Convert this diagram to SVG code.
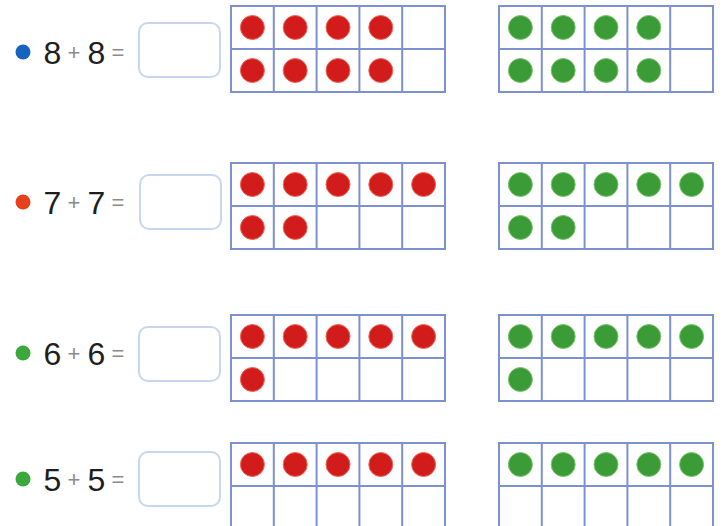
<svg xmlns="http://www.w3.org/2000/svg" width="723" height="526" viewBox="0 0 723 526">
<defs>
<style>
.bg{fill:#ffffff}
.num{font-family:"Liberation Sans",Arial,sans-serif;font-size:32px;fill:#1e1e1e;text-anchor:middle}
.op{font-family:"Liberation Sans",Arial,sans-serif;font-size:22px;fill:#8a8a8a;text-anchor:middle}
.box{fill:#ffffff;stroke:#c6d7ee;stroke-width:2}
.grid{fill:#ffffff;stroke:#7d90d0;stroke-width:2}
.gl{stroke:#7d90d0;stroke-width:2;fill:none}
.rd{fill:#d21c1c;stroke:#f06a5a;stroke-width:1}
.gd{fill:#3a9b37;stroke:#7cc46e;stroke-width:1}
</style>
<g id="tf">
<rect class="grid" x="0" y="0" width="214" height="86"/>
<path class="gl" d="M0 43H214M42.8 0V86M85.6 0V86M128.4 0V86M171.2 0V86"/>
</g>
</defs>
<rect class="bg" x="0" y="0" width="723" height="526"/>

<g id="row1">
<circle cx="23" cy="52" r="7.5" fill="#1565c0"/>
<text class="num" x="52.5" y="63.5">8</text>
<text class="op" x="74" y="60">+</text>
<text class="num" x="96.5" y="63.5">8</text>
<text class="op" x="118" y="60">=</text>
<rect class="box" x="139" y="23" width="81" height="54" rx="9"/>
<g id="r1red">
<use href="#tf" x="231" y="6"/>
<circle class="rd" cx="252.4" cy="27.5" r="12"/><circle class="rd" cx="295.2" cy="27.5" r="12"/><circle class="rd" cx="338" cy="27.5" r="12"/><circle class="rd" cx="380.8" cy="27.5" r="12"/>
<circle class="rd" cx="252.4" cy="70.5" r="12"/><circle class="rd" cx="295.2" cy="70.5" r="12"/><circle class="rd" cx="338" cy="70.5" r="12"/><circle class="rd" cx="380.8" cy="70.5" r="12"/>
</g>
<g id="r1green">
<use href="#tf" x="499" y="6"/>
<circle class="gd" cx="520.4" cy="27.5" r="12"/><circle class="gd" cx="563.2" cy="27.5" r="12"/><circle class="gd" cx="606" cy="27.5" r="12"/><circle class="gd" cx="648.8" cy="27.5" r="12"/>
<circle class="gd" cx="520.4" cy="70.5" r="12"/><circle class="gd" cx="563.2" cy="70.5" r="12"/><circle class="gd" cx="606" cy="70.5" r="12"/><circle class="gd" cx="648.8" cy="70.5" r="12"/>
</g>
</g>

<g id="row2">
<circle cx="23" cy="202" r="7.5" fill="#e8401c"/>
<text class="num" x="52.5" y="213.5">7</text>
<text class="op" x="74" y="210">+</text>
<text class="num" x="96.5" y="213.5">7</text>
<text class="op" x="118" y="210">=</text>
<rect class="box" x="140" y="175" width="81" height="54" rx="9"/>
<g id="r2red">
<use href="#tf" x="231" y="163"/>
<circle class="rd" cx="252.4" cy="184.5" r="12"/><circle class="rd" cx="295.2" cy="184.5" r="12"/><circle class="rd" cx="338" cy="184.5" r="12"/><circle class="rd" cx="380.8" cy="184.5" r="12"/><circle class="rd" cx="423.6" cy="184.5" r="12"/>
<circle class="rd" cx="252.4" cy="227.5" r="12"/><circle class="rd" cx="295.2" cy="227.5" r="12"/>
</g>
<g id="r2green">
<use href="#tf" x="499" y="163"/>
<circle class="gd" cx="520.4" cy="184.5" r="12"/><circle class="gd" cx="563.2" cy="184.5" r="12"/><circle class="gd" cx="606" cy="184.5" r="12"/><circle class="gd" cx="648.8" cy="184.5" r="12"/><circle class="gd" cx="691.6" cy="184.5" r="12"/>
<circle class="gd" cx="520.4" cy="227.5" r="12"/><circle class="gd" cx="563.2" cy="227.5" r="12"/>
</g>
</g>

<g id="row3">
<circle cx="23" cy="353" r="7.5" fill="#3aa83a"/>
<text class="num" x="52.5" y="364.5">6</text>
<text class="op" x="74" y="361">+</text>
<text class="num" x="96.5" y="364.5">6</text>
<text class="op" x="118" y="361">=</text>
<rect class="box" x="139" y="327" width="81" height="54" rx="9"/>
<g id="r3red">
<use href="#tf" x="231" y="315"/>
<circle class="rd" cx="252.4" cy="336.5" r="12"/><circle class="rd" cx="295.2" cy="336.5" r="12"/><circle class="rd" cx="338" cy="336.5" r="12"/><circle class="rd" cx="380.8" cy="336.5" r="12"/><circle class="rd" cx="423.6" cy="336.5" r="12"/>
<circle class="rd" cx="252.4" cy="379.5" r="12"/>
</g>
<g id="r3green">
<use href="#tf" x="499" y="315"/>
<circle class="gd" cx="520.4" cy="336.5" r="12"/><circle class="gd" cx="563.2" cy="336.5" r="12"/><circle class="gd" cx="606" cy="336.5" r="12"/><circle class="gd" cx="648.8" cy="336.5" r="12"/><circle class="gd" cx="691.6" cy="336.5" r="12"/>
<circle class="gd" cx="520.4" cy="379.5" r="12"/>
</g>
</g>

<g id="row4">
<circle cx="23" cy="479" r="7.5" fill="#3aa83a"/>
<text class="num" x="52.5" y="490.5">5</text>
<text class="op" x="74" y="487">+</text>
<text class="num" x="96.5" y="490.5">5</text>
<text class="op" x="118" y="487">=</text>
<rect class="box" x="139" y="452" width="81" height="54" rx="9"/>
<g id="r4red">
<use href="#tf" x="231" y="443"/>
<circle class="rd" cx="252.4" cy="464.5" r="12"/><circle class="rd" cx="295.2" cy="464.5" r="12"/><circle class="rd" cx="338" cy="464.5" r="12"/><circle class="rd" cx="380.8" cy="464.5" r="12"/><circle class="rd" cx="423.6" cy="464.5" r="12"/>
</g>
<g id="r4green">
<use href="#tf" x="499" y="443"/>
<circle class="gd" cx="520.4" cy="464.5" r="12"/><circle class="gd" cx="563.2" cy="464.5" r="12"/><circle class="gd" cx="606" cy="464.5" r="12"/><circle class="gd" cx="648.8" cy="464.5" r="12"/><circle class="gd" cx="691.6" cy="464.5" r="12"/>
</g>
</g>
</svg>
